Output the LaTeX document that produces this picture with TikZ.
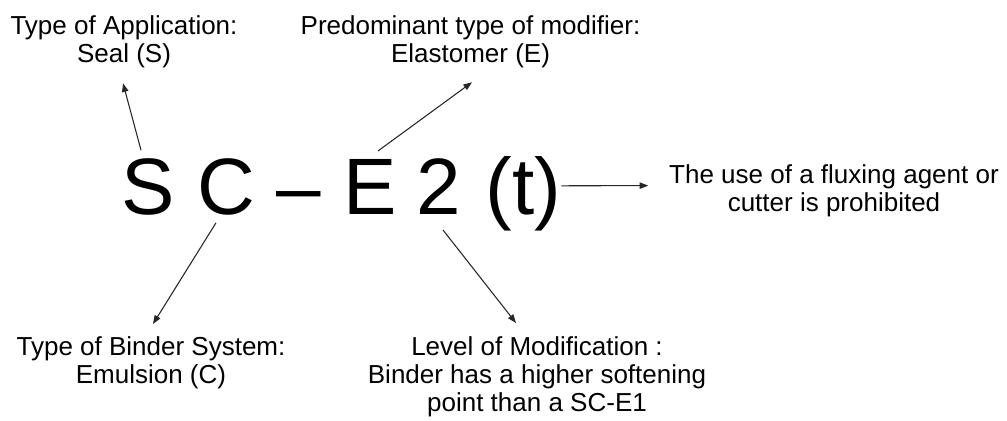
\documentclass[tikz,border=0pt]{standalone}
\usepackage{fontspec}
\setmainfont{Liberation Sans}
\usetikzlibrary{arrows.meta}

\begin{document}
\begin{tikzpicture}[x=0.75pt, y=-0.75pt,
    every node/.style={inner sep=0pt, outer sep=0pt},
    big/.style  ={anchor=base, font=\fontsize{60}{60}\selectfont},
    lbl/.style  ={anchor=north, align=center, font=\fontsize{19.5}{21}\selectfont},
    arr/.style  ={-{Triangle[length=6.5pt,width=4.8pt]}, draw=black!85, line width=.8pt}]

\useasboundingbox (0,0) rectangle (1007,421);

\def\BL{214}   % baseline of the code
\def\TY{16}  \def\BY{337}   % tops of the upper / lower labels

% ── the grade code ───────────────────────────────────────────────────────
\node[big] (lS)   at (148.5,\BL) {S};
\node[big] (lC)   at (226,\BL)   {C};
\node[big] (dash) at (298.5,\BL) {\textendash};
\node[big] (lE)   at (370.5,\BL) {E};
\node[big] (l2)   at (439,\BL)   {2};
\node[big] (lt)   at (523.5,\BL) {(t)};

% ── meanings ─────────────────────────────────────────────────────────────
\node[lbl] (appl)   at (124,\TY)   {Type of Application:\\Seal (S)};
\node[lbl] (modif)  at (470.5,\TY) {Predominant type of modifier:\\Elastomer (E)};
\node[lbl] (flux)   at (834,165)   {The use of a fluxing agent or\\cutter is prohibited};
\node[lbl] (binder) at (151,\BY)   {Type of Binder System:\\Emulsion (C)};
\node[lbl] (level)  at (537,\BY)   {Level of Modification :\\Binder has a higher softening\\point than a SC-E1};

% ── arrows ───────────────────────────────────────────────────────────────
\draw[arr] ([shift={(-7.5,-8)}]lS.north) -- ([shift={(-1,15)}]appl.south);
\draw[arr] ([shift={(7.5,-8)}]lE.north)  -- ([shift={(1.5,14)}]modif.south);
\draw[arr] ([shift={(-10,8)}]lC.south)   -- ([shift={(2,-13)}]binder.north);
\draw[arr] ([shift={(4,16)}]l2.south)    -- ([shift={(-21,-14)}]level.north);
\draw[arr] ([shift={(0,-7.5)}]lt.east)   -- ([shift={(-21,-5.5)}]flux.west);
\end{tikzpicture}
\end{document}
